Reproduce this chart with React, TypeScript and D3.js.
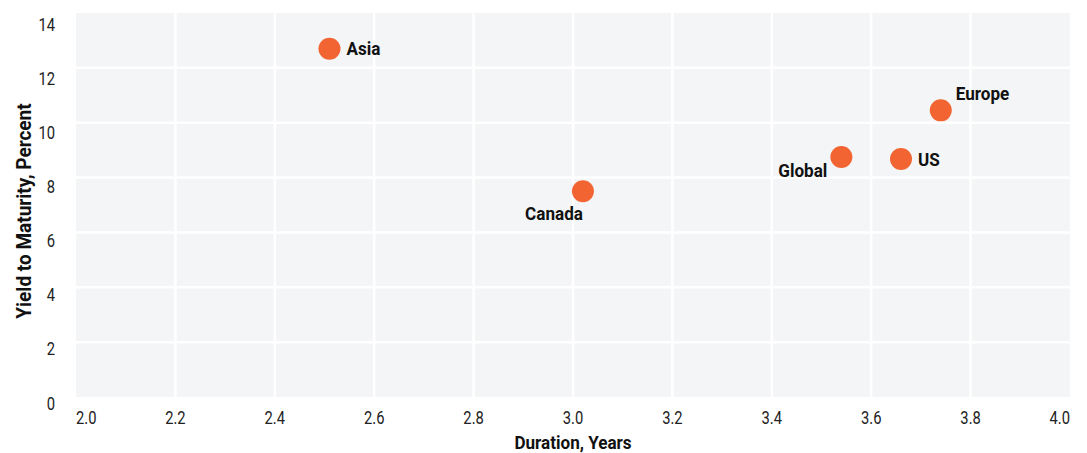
import React from "react";
import * as d3 from "d3";

// Regional bond markets: duration vs yield to maturity
const regions = ["Asia", "Canada", "Global", "US", "Europe"];
const durations = [2.51, 3.02, 3.54, 3.66, 3.74];
const yields = [12.7, 7.5, 8.75, 8.68, 10.45];
// label placement: which side of the dot the name sits
const labelSides = ["right", "below-left", "left-below", "right", "above-right"];

const xTicks = [2.0, 2.2, 2.4, 2.6, 2.8, 3.0, 3.2, 3.4, 3.6, 3.8, 4.0];
const yTicks = [0, 2, 4, 6, 8, 10, 12, 14];

const W = 1087;
const H = 453;
const margin = { left: 76, right: 17, top: 13, bottom: 56 };

const FONT = "Roboto, 'DejaVu Sans Condensed', sans-serif";
const ORANGE = "#F26532";
const BG = "#F4F5F7";

// Narrow text: Roboto squeezed horizontally
function NText({
  x,
  y,
  children,
  anchor = "start",
  size = 18,
  bold = false,
  sx = 0.82,
  rotate = 0,
  fill = "#222",
}: {
  x: number;
  y: number;
  children: React.ReactNode;
  anchor?: string;
  size?: number;
  bold?: boolean;
  sx?: number;
  rotate?: number;
  fill?: string;
}) {
  return (
    <text
      transform={`translate(${x},${y}) rotate(${rotate}) scale(${sx},1)`}
      textAnchor={anchor}
      dominantBaseline="central"
      fontSize={size}
      fontWeight={bold ? "bold" : "normal"}
      fill={fill}
    >
      {children}
    </text>
  );
}

export default function App() {
  const x = d3.scaleLinear().domain([2, 4]).range([margin.left, W - margin.right]);
  const y = d3.scaleLinear().domain([0, 14]).range([H - margin.bottom, margin.top]);
  // tick labels sit just below their grid lines
  const yLab = d3.scaleLinear().domain([0, 14]).range([403.5, 24.5]);
  const [x0, x1] = x.range();
  const [y0, y1] = y.range();

  const fmt = d3.format(".1f");

  return (
    <div style={{ position: "absolute", left: 0, top: 0 }}>
      <svg width={W} height={H} style={{ display: "block", fontFamily: FONT }}>
        <rect x={x0} y={y1} width={x1 - x0} height={y0 - y1} fill={BG} />
        {xTicks.slice(1, -1).map((t) => (
          <line key={"gx" + t} x1={x(t)} x2={x(t)} y1={y1} y2={y0} stroke="#fff" strokeWidth={2.5} />
        ))}
        {yTicks.slice(1, -1).map((t) => (
          <line key={"gy" + t} x1={x0} x2={x1} y1={y(t)} y2={y(t)} stroke="#fff" strokeWidth={2.5} />
        ))}

        {yTicks.map((t) => (
          <NText key={"ty" + t} x={55} y={yLab(t)} anchor="end">
            {t}
          </NText>
        ))}
        {xTicks.map((t, i) => (
          <NText
            key={"tx" + t}
            x={i === 0 ? x0 : i === xTicks.length - 1 ? x1 : x(t)}
            y={418}
            anchor={i === 0 ? "start" : i === xTicks.length - 1 ? "end" : "middle"}
          >
            {fmt(t)}
          </NText>
        ))}

        <NText x={(x0 + x1) / 2} y={442} anchor="middle" size={19} bold sx={0.9} fill="#111">
          Duration, Years
        </NText>
        <NText x={24} y={211} anchor="middle" size={20} bold sx={0.95} rotate={-90} fill="#111">
          Yield to Maturity, Percent
        </NText>

        {regions.map((r, i) => {
          const cx = x(durations[i]);
          const cy = y(yields[i]);
          const side = labelSides[i];
          let lx = cx + 17;
          let ly = cy;
          let anchor = "start";
          if (side === "below-left") {
            lx = cx;
            ly = cy + 22;
            anchor = "end";
          } else if (side === "left-below") {
            lx = cx - 14;
            ly = cy + 13;
            anchor = "end";
          } else if (side === "above-right") {
            lx = cx + 15;
            ly = cy - 17;
            anchor = "start";
          }
          return (
            <g key={r}>
              <circle cx={cx} cy={cy} r={11} fill={ORANGE} />
              <NText x={lx} y={ly} anchor={anchor} size={19} bold sx={0.9} fill="#111">
                {r}
              </NText>
            </g>
          );
        })}
      </svg>
    </div>
  );
}
